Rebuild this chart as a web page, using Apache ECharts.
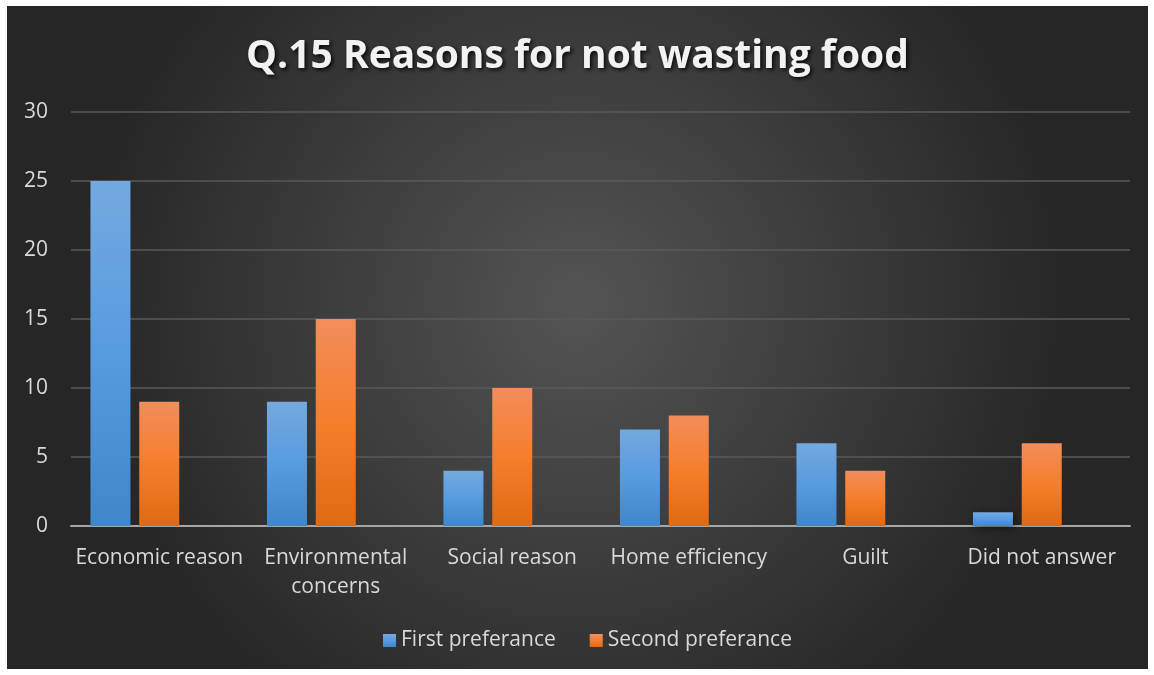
<!DOCTYPE html>
<html>
<head>
<meta charset="utf-8">
<script src="https://cdn.jsdelivr.net/npm/echarts@6/dist/echarts.min.js"></script>
<style>
  html, body { margin: 0; padding: 0; background: #ffffff; }
  #chart { position: absolute; left: 7px; top: 6px; width: 1141px; height: 663px; }
</style>
</head>
<body>
<div id="chart"></div>
<script>
// Survey question 15: reasons respondents give for not wasting food
const categories = ['Economic reason', 'Environmental\nconcerns', 'Social reason', 'Home efficiency', 'Guilt', 'Did not answer'];
const firstPreference = [25, 9, 4, 7, 6, 1];
const secondPreference = [9, 15, 10, 8, 4, 6];
const seriesNames = ['First preferance', 'Second preferance'];
// empty third slot in each cluster (keeps the pair offset to the left)
const spareSlot = [null, null, null, null, null, null];

const FONT = '"Open Sans", "Noto Sans", sans-serif';
const chart = echarts.init(document.getElementById('chart'), null, { renderer: 'canvas' });

const barGrad = (top, mid, bottom) => new echarts.graphic.LinearGradient(0, 0, 0, 1, [
  { offset: 0, color: top }, { offset: 0.5, color: mid }, { offset: 1, color: bottom }
]);

chart.setOption({
  backgroundColor: new echarts.graphic.RadialGradient(0.5, 0.45, 0.75, [
    { offset: 0, color: '#545454' },
    { offset: 1, color: '#262626' }
  ]),
  title: {
    text: 'Q.15 Reasons for not wasting food',
    left: 'center',
    top: 26,
    textStyle: {
      fontFamily: FONT,
      fontSize: 39,
      fontWeight: 'bold',
      color: '#f2f2f2',
      textShadowColor: 'rgba(0,0,0,0.85)',
      textShadowBlur: 4,
      textShadowOffsetX: 2,
      textShadowOffsetY: 2
    }
  },
  legend: {
    data: seriesNames,
    bottom: 13,
    left: 371,
    itemWidth: 13,
    itemHeight: 13,
    itemGap: 34,
    icon: 'rect',
    textStyle: { fontFamily: FONT, fontSize: 21, color: '#d9d9d9' }
  },
  grid: { left: 64, right: 18, top: 106, bottom: 143 },
  xAxis: {
    type: 'category',
    data: categories,
    axisLine: { lineStyle: { color: '#a6a6a6', width: 2 } },
    axisTick: { show: false },
    axisLabel: {
      fontFamily: FONT, fontSize: 21, color: '#d9d9d9',
      margin: 18, lineHeight: 29, interval: 0
    }
  },
  yAxis: {
    type: 'value',
    min: 0, max: 30, interval: 5,
    axisLine: { show: false },
    axisTick: { show: false },
    axisLabel: { fontFamily: FONT, fontSize: 21, color: '#d9d9d9', margin: 23 },
    splitLine: { lineStyle: { color: '#5a5a5a', width: 1.5 } }
  },
  series: [
    {
      name: seriesNames[0], type: 'bar', data: firstPreference,
      barWidth: 40, barGap: '22%', barCategoryGap: '22%',
      itemStyle: {
        color: barGrad('#74a9df', '#579be0', '#3f86cb'),
        shadowColor: 'rgba(0,0,0,0.55)', shadowBlur: 8, shadowOffsetX: 2, shadowOffsetY: 2
      }
    },
    {
      name: seriesNames[1], type: 'bar', data: secondPreference,
      barWidth: 40,
      itemStyle: {
        color: barGrad('#f28d5b', '#f57e2c', '#e06a12'),
        shadowColor: 'rgba(0,0,0,0.55)', shadowBlur: 8, shadowOffsetX: 2, shadowOffsetY: 2
      }
    },
    { name: 'spare', type: 'bar', data: spareSlot, barWidth: 40, silent: true }
  ]
});
</script>
</body>
</html>
